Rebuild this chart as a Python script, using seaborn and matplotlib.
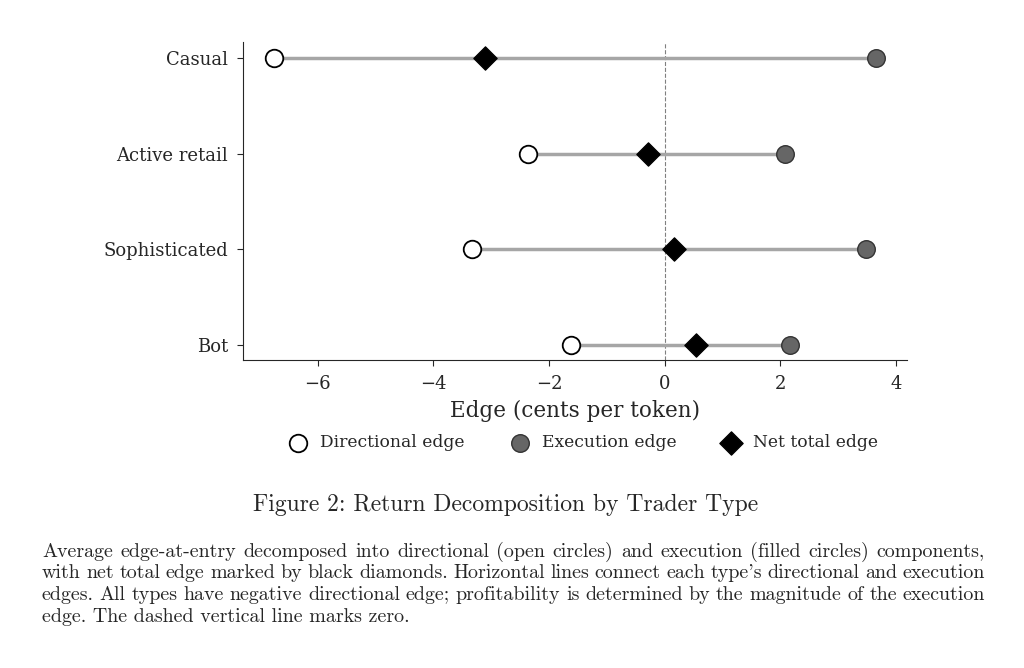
import matplotlib
matplotlib.use("Agg")
import matplotlib.pyplot as plt
import seaborn as sns

# values (cents per token)
trader_types = ["Casual", "Active retail", "Sophisticated", "Bot"]
directional = [-6.76, -2.36, -3.33, -1.62]
execution = [3.66, 2.09, 3.48, 2.17]
net_total = [-3.10, -0.29, 0.16, 0.55]

sns.set_style("ticks")
plt.rcParams['font.family'] = ['DejaVu Serif']

fig = plt.figure(figsize=(10.24, 6.68), dpi=100)
ax = fig.add_axes([0.237, 0.461, 0.649, 0.476])

ax.axvline(0, color="gray", ls="--", lw=0.8, zorder=1)
ax.hlines(range(len(trader_types)), directional, execution,
          color="#a6a6a6", lw=2.5, zorder=2)

sns.scatterplot(x=directional, y=trader_types, ax=ax, marker="o", s=160,
                color="white", edgecolor="black", linewidth=1.3, zorder=3,
                label="Directional edge")
sns.scatterplot(x=execution, y=trader_types, ax=ax, marker="o", s=160,
                color="#666666", edgecolor="#333333", linewidth=1.0, zorder=3,
                label="Execution edge")
sns.scatterplot(x=net_total, y=trader_types, ax=ax, marker="D", s=140,
                color="black", edgecolor="black", zorder=4,
                label="Net total edge")

ax.set_ylim(3.157, -0.17)
ax.set_xlim(-7.3, 4.2)
ax.set_xticks([-6, -4, -2, 0, 2, 4])
ax.set_xticklabels(["\u22126", "\u22124", "\u22122", "0", "2", "4"])
sns.despine(ax=ax)
ax.tick_params(labelsize=13, length=4.5, pad=6)
ax.set_xlabel("Edge (cents per token)", fontsize=15.5, labelpad=5)
ax.set_ylabel("")

ax.legend(loc="center", bbox_to_anchor=(0.507, -0.26), ncol=3, frameon=False,
          fontsize=12.3, handletextpad=0.3, columnspacing=2.2)

cap_font = ["cmr10", "DejaVu Serif"]
fig.text(0.494, 0.244, "Figure 2: Return Decomposition by Trader Type",
         ha="center", va="center", fontsize=17, family=cap_font)
caption = [
    "Average edge-at-entry decomposed into directional (open circles) and execution (filled circles) components,",
    "with net total edge marked by black diamonds. Horizontal lines connect each type's directional and execution",
    "edges. All types have negative directional edge; profitability is determined by the magnitude of the execution",
    "edge. The dashed vertical line marks zero.",
]

# justified paragraph: place words one by one so full lines span the same width
renderer = fig.canvas.get_renderer()
left_px, right_px = 42, 985
cap_size = 14.4
for i, line in enumerate(caption):
    y = 0.174 - i * 0.0325
    words = line.split(" ")
    if i == len(caption) - 1:
        fig.text(left_px / 1024, y, line, ha="left", va="center",
                 fontsize=cap_size, family=cap_font)
        continue
    texts = [fig.text(0, y, w, ha="left", va="center", fontsize=cap_size,
                      family=cap_font) for w in words]
    widths = [t.get_window_extent(renderer).width for t in texts]
    gap = (right_px - left_px - sum(widths)) / (len(words) - 1)
    x = left_px
    for t, w in zip(texts, widths):
        t.set_x(x / 1024)
        x += w + gap

fig.savefig("out.png", dpi=100)
